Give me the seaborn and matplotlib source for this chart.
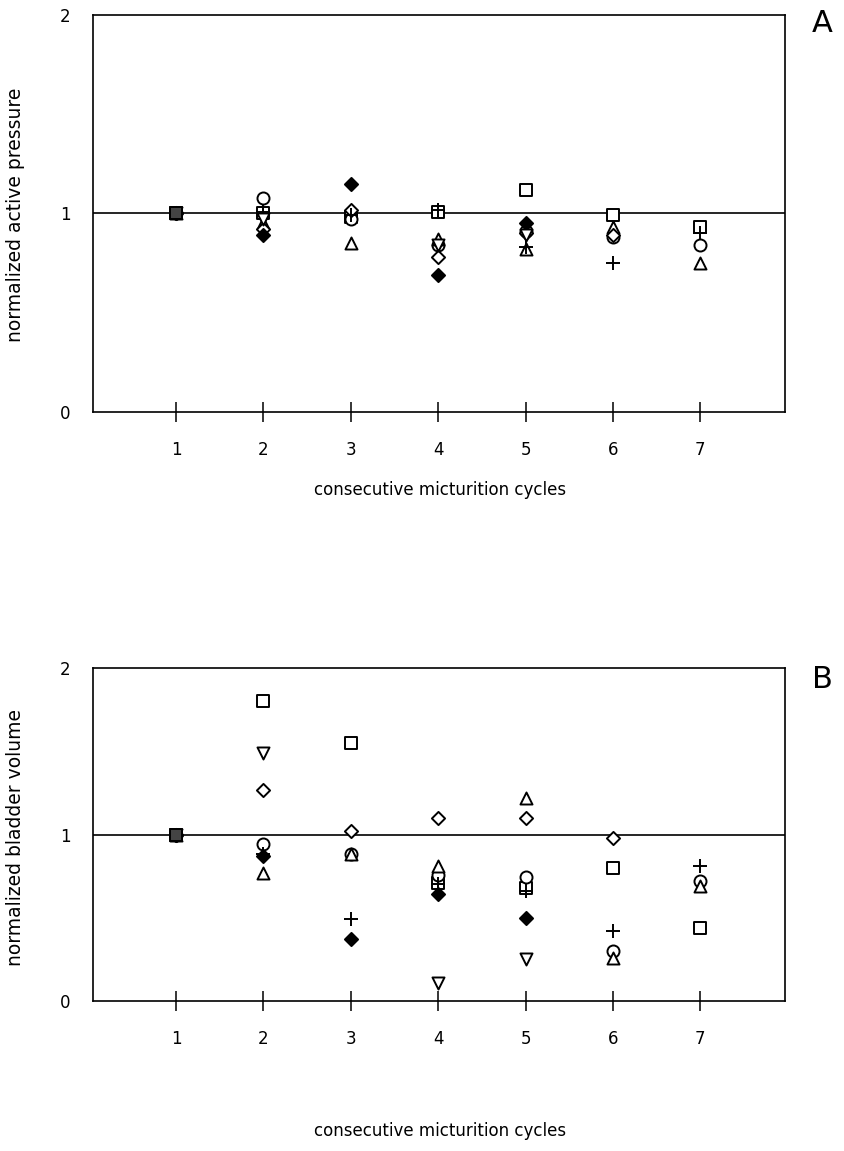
import numpy as np
import pandas as pd
import matplotlib
matplotlib.use("Agg")
import matplotlib.pyplot as plt
import seaborn as sns

# cycles on the x axis
cycles = [1, 2, 3, 4, 5, 6, 7]
nan = np.nan

# panel A: normalized active pressure (one list per experiment / marker)
press_square = [1.0, 1.00, 0.98, 1.01, 1.12, 0.99, 0.93]
press_circle = [1.0, 1.08, 0.97, 0.84, 0.91, 0.88, 0.84]
press_tri_up = [1.0, 0.95, 0.85, 0.87, 0.82, 0.93, 0.75]
press_diamond = [1.0, 0.92, 1.02, 0.78, 0.90, 0.89, nan]
press_diamond_f = [1.0, 0.89, 1.15, 0.69, 0.95, nan, nan]
press_plus = [1.0, 1.01, 0.99, 1.02, 0.83, 0.75, 0.90]
press_tri_down = [1.0, 0.97, nan, 0.84, 0.89, nan, nan]

# panel B: normalized bladder volume
vol_square = [1.0, 1.80, 1.55, 0.71, 0.68, 0.80, 0.44]
vol_circle = [1.0, 0.94, 0.88, 0.755, 0.745, 0.30, 0.72]
vol_tri_up = [1.0, 0.77, 0.88, 0.81, 1.22, 0.26, 0.69]
vol_diamond = [1.0, 1.27, 1.02, 1.10, 1.10, 0.98, nan]
vol_diamond_f = [1.0, 0.87, 0.37, 0.64, 0.50, nan, nan]
vol_plus = [1.0, 0.88, 0.49, 0.70, 0.66, 0.42, 0.81]
vol_tri_down = [1.0, 1.49, nan, 0.11, 0.25, nan, nan]

series_names = ["square", "circle", "tri_up", "diamond", "diamond_f", "plus", "tri_down"]
panel_a = [press_square, press_circle, press_tri_up, press_diamond,
           press_diamond_f, press_plus, press_tri_down]
panel_b = [vol_square, vol_circle, vol_tri_up, vol_diamond,
           vol_diamond_f, vol_plus, vol_tri_down]

# marker look for each series
styles = {
    "square":    dict(marker="s", s=70, facecolor="white", edgecolor="black"),
    "circle":    dict(marker="o", s=75, facecolor="white", edgecolor="black"),
    "tri_up":    dict(marker="^", s=75, facecolor="white", edgecolor="black"),
    "diamond":   dict(marker="D", s=45, facecolor="white", edgecolor="black"),
    "diamond_f": dict(marker="D", s=45, facecolor="black", edgecolor="black"),
    "plus":      dict(marker="+", s=110, color="black"),
    "tri_down":  dict(marker="v", s=75, facecolor="white", edgecolor="black"),
}


def long_frame(lists):
    rows = []
    for name, vals in zip(series_names, lists):
        for c, v in zip(cycles, vals):
            rows.append({"cycle": c, "value": v, "series": name})
    return pd.DataFrame(rows).dropna()


sns.set_style("ticks")
plt.rcParams["font.family"] = ["DejaVu Sans"]
plt.rcParams["text.color"] = "black"

fig = plt.figure(figsize=(8.45, 11.51), dpi=100)
ax_a = fig.add_axes([93 / 845, 1 - 412 / 1151, 692 / 845, 397 / 1151])
ax_b = fig.add_axes([93 / 845, 1 - 1001 / 1151, 692 / 845, 333 / 1151])

for ax, lists in [(ax_a, panel_a), (ax_b, panel_b)]:
    df = long_frame(lists)
    ax.axhline(1.0, color="black", lw=1.2, zorder=1)
    for name in series_names:
        sub = df[df["series"] == name]
        sns.scatterplot(data=sub, x="cycle", y="value", ax=ax, linewidth=1.4,
                        zorder=3, legend=False, **styles[name])
    # all series start at 1 -> dark stacked square at cycle 1
    ax.scatter([cycles[0]], [1.0], marker="s", s=70, facecolor="#444444",
               edgecolor="black", linewidth=1.4, zorder=4)
    ax.set_xlim(0.05, 7.97)
    ax.set_ylim(0, 2)
    ax.set_xticks(cycles)
    ax.set_yticks([0, 1, 2])
    ax.set_yticklabels(["0", "1", "2"])
    ax.tick_params(axis="x", direction="inout", length=14, width=1.1,
                   labelsize=12, pad=14, colors="black")
    ax.tick_params(axis="y", length=0, labelsize=12, pad=16, colors="black")
    for sp in ax.spines.values():
        sp.set_visible(True)
        sp.set_linewidth(1.2)
        sp.set_color("black")
    ax.set_xlabel("")
    ax.set_ylabel("")

fig.text(440 / 845, 1 - 490 / 1151, "consecutive micturition cycles",
         ha="center", va="center", fontsize=12)
fig.text(440 / 845, 1 - 1131 / 1151, "consecutive micturition cycles",
         ha="center", va="center", fontsize=12)
fig.text(16 / 845, 1 - 215 / 1151, "normalized active pressure",
         ha="center", va="center", rotation=90, fontsize=13.5)
fig.text(16 / 845, 1 - 838 / 1151, "normalized bladder volume",
         ha="center", va="center", rotation=90, fontsize=13.5)
fig.text(822 / 845, 1 - 24 / 1151, "A", ha="center", va="center", fontsize=22)
fig.text(822 / 845, 1 - 680 / 1151, "B", ha="center", va="center", fontsize=22)

fig.savefig("out.png", dpi=100)
